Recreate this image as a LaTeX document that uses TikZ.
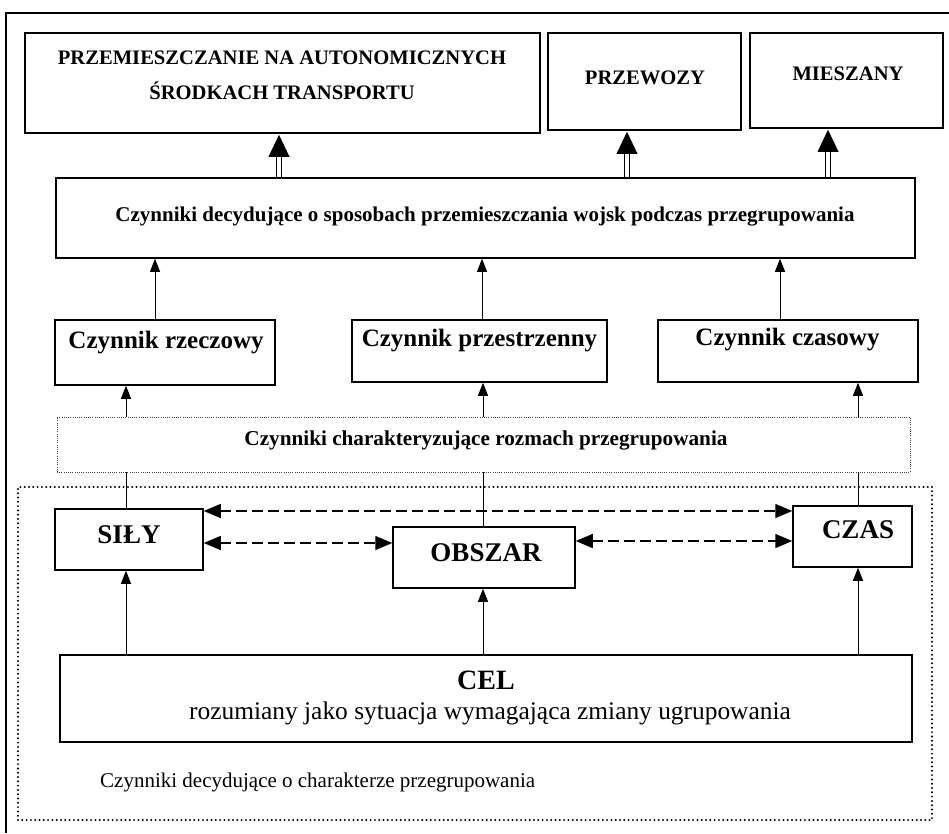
\documentclass[tikz,border=0pt]{standalone}
\usepackage{fontspec}
\setmainfont{Liberation Serif}
\usetikzlibrary{arrows.meta,calc}
\begin{document}
\begin{tikzpicture}[x=1pt,y=-1pt,
  box/.style={draw, line width=1.5pt, inner sep=0pt},
  txt/.style={inner sep=0pt, anchor=center},
  bigb/.style={font=\fontsize{20.6}{24}\selectfont\bfseries},
  midb/.style={font=\fontsize{21}{24}\selectfont\bfseries},
  czb/.style={font=\fontsize{25}{28}\selectfont\bfseries},
  keyb/.style={font=\fontsize{27}{30}\selectfont\bfseries},
  conn/.style={line width=1pt},
  arr/.style={line width=1pt, -{Triangle[width=10pt,length=13pt]}},
  darr/.style={line width=1.5pt, dash pattern=on 11pt off 5pt,
     {Triangle[width=14pt,length=17pt]}-{Triangle[width=14pt,length=17pt]}},
  shaft/.style={line width=0.9pt},
]
\useasboundingbox (0,0) rectangle (949,833);
% outer frame (top and left edges)
\coordinate (ftl) at (6,13);
\coordinate (ftr) at (949,13);
\coordinate (fbl) at (6,833);
\draw[line width=1.3pt] (ftr) -- (ftl) -- (fbl);

% top boxes
\node[box, minimum width=515pt, minimum height=100pt] (b1) at (282.5,83) {};
\node[box, minimum width=193pt, minimum height=97pt] (b2) at (644.5,81.5) {};
\node[box, minimum width=193pt, minimum height=95pt] (b3) at (846.5,80.5) {};
\node[txt, bigb, align=center] (t1) at (282,75) {PRZEMIESZCZANIE NA AUTONOMICZNYCH\\[11pt]ŚRODKACH TRANSPORTU};
\node[txt, bigb] (t2) at (645,78) {PRZEWOZY};
\node[txt, bigb] (t3) at (848,74) {MIESZANY};

% factor box
\node[box, minimum width=859pt, minimum height=80pt] (fact) at (485.5,218) {};
\node[txt, midb] (tfact) at (485,217) {Czynniki decydujące o sposobach przemieszczania wojsk podczas przegrupowania};

% double arrows
\coordinate (a1) at (279,0);
\coordinate (a2) at (627,0);
\coordinate (a3) at (828,0);
\foreach \b/\a in {b1/a1,b2/a2,b3/a3}{
  \draw[shaft] ($(fact.north -| \a)+(-2.3,0)$) -- ($(\b.south -| \a)+(-2.3,20)$);
  \draw[shaft] ($(fact.north -| \a)+(2.3,0)$) -- ($(\b.south -| \a)+(2.3,20)$);
  \fill ($(\b.south -| \a)+(0,1)$) -- ++(-10.5,22) -- ++(21,0) -- cycle;
}

% Czynnik boxes
\node[box, minimum width=220pt, minimum height=65pt] (cr) at (165,352.5) {};
\node[box, minimum width=255pt, minimum height=62pt] (cp) at (479.5,351) {};
\node[box, minimum width=260pt, minimum height=62pt] (cc) at (788,351) {};
\node[txt, czb] (tcr) at (166,343) {Czynnik rzeczowy};
\node[txt, czb] (tcp) at (479.5,341) {Czynnik przestrzenny};
\node[txt, czb] (tcc) at (787.5,340) {Czynnik czasowy};

\coordinate (u1) at (155,0);
\coordinate (u2) at (482,0);
\coordinate (u3) at (780,0);
\draw[arr] (cr.north -| u1) -- (fact.south -| u1);
\draw[arr] (cp.north -| u2) -- (fact.south -| u2);
\draw[arr] (cc.north -| u3) -- (fact.south -| u3);

% dotted characterising box
\node[draw, black!75, line width=0.9pt, dash pattern=on 0.9pt off 1.3pt, minimum width=853pt, minimum height=55pt, inner sep=0pt] (ch) at (483.5,444.5) {};
\node[txt, font=\fontsize{21.2}{24}\selectfont\bfseries] (tch) at (486,440) {Czynniki charakteryzujące rozmach przegrupowania};

\coordinate (v1) at (126,0);
\coordinate (v2) at (483,0);
\coordinate (v3) at (858,0);
\draw[arr] (ch.north -| v1) -- (cr.south -| v1);
\draw[arr] (ch.north -| v2) -- (cp.south -| v2);
\draw[arr] (ch.north -| v3) -- (cc.south -| v3);

% group dotted box
\node[draw, line width=2.2pt, dash pattern=on 0pt off 4.3pt, line cap=round, minimum width=914pt, minimum height=333pt, inner sep=0pt] (grp) at (475,653.5) {};

% key boxes
\node[box, minimum width=148pt, minimum height=61pt] (sily) at (129,539.5) {};
\node[box, minimum width=182pt, minimum height=61pt] (obs) at (484,557.5) {};
\node[box, minimum width=119pt, minimum height=61pt] (czas) at (852.5,536.5) {};
\node[txt, keyb] (tsily) at (129,535) {SIŁY};
\node[txt, keyb] (tobs) at (486,553) {OBSZAR};
\node[txt, keyb] (tczas) at (858,530) {CZAS};

\draw[conn] (sily.north -| v1) -- (ch.south -| v1);
\draw[conn] (obs.north -| v2) -- (ch.south -| v2);
\draw[conn] (czas.north -| v3) -- (ch.south -| v3);

% dashed relations
\coordinate (h1) at (0,511);
\coordinate (h2) at (0,543);
\coordinate (h3) at (0,541);
\draw[darr] (sily.east |- h1) -- (czas.west |- h1);
\draw[darr] (sily.east |- h2) -- (obs.west |- h2);
\draw[darr] (obs.east |- h3) -- (czas.west |- h3);

% CEL
\node[box, minimum width=852pt, minimum height=87pt] (cel) at (486,698.5) {};
\node[txt, font=\fontsize{28}{30}\selectfont\bfseries] (tcel) at (486,680) {CEL};
\node[txt, font=\fontsize{25.4}{28}\selectfont] (troz) at (490,713) {rozumiany jako sytuacja wymagająca zmiany ugrupowania};

\draw[arr] (cel.north -| v1) -- (sily.south -| v1);
\draw[arr] (cel.north -| v2) -- (obs.south -| v2);
\draw[arr] (cel.north -| v3) -- (czas.south -| v3);

\node[inner sep=0pt, anchor=west, font=\fontsize{21}{24}\selectfont] (tfoot) at (100,782) {Czynniki decydujące o charakterze przegrupowania};
\end{tikzpicture}
\end{document}
